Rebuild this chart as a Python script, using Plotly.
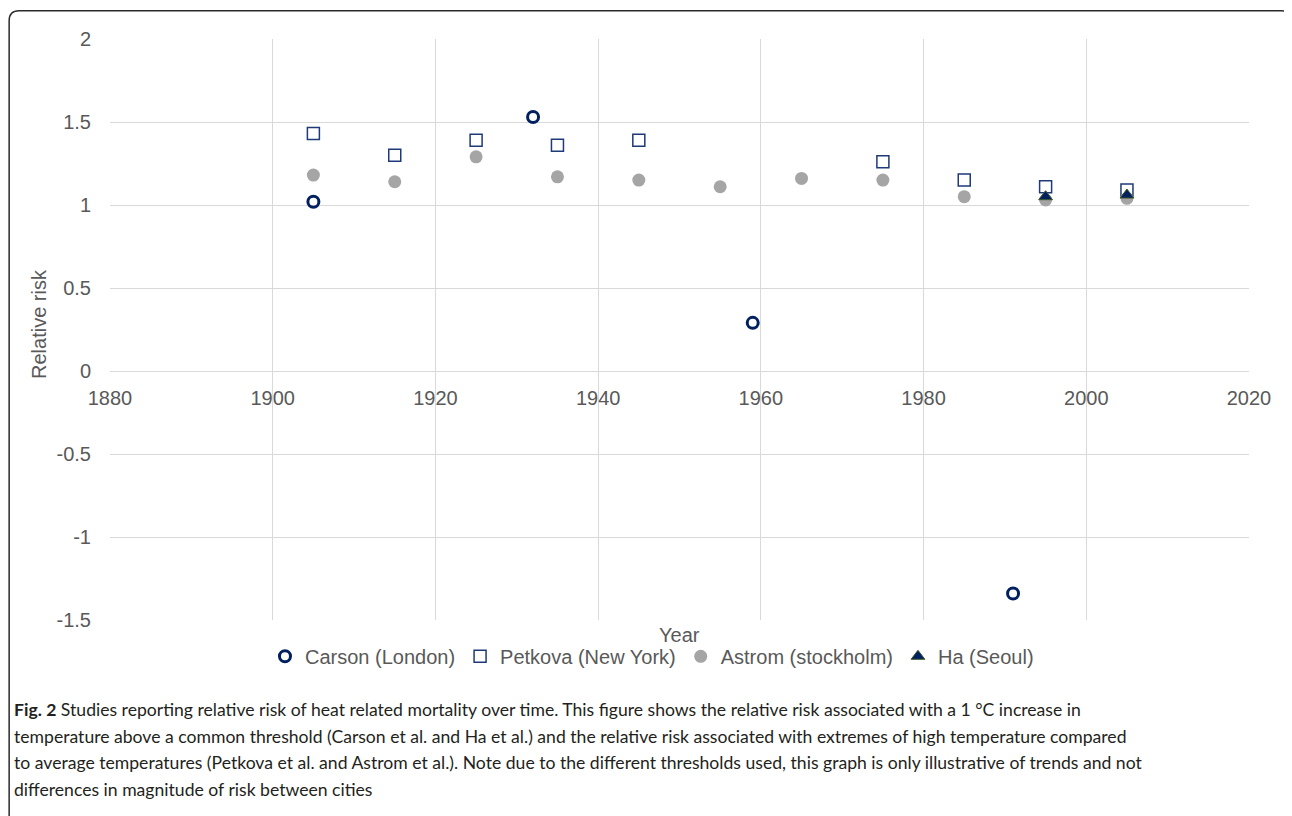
import plotly.graph_objects as go

# ---------------- data ----------------
carson_year = [1905, 1932, 1959, 1991]
carson_rr = [1.02, 1.53, 0.29, -1.34]

petkova_year = [1905, 1915, 1925, 1935, 1945, 1975, 1985, 1995, 2005]
petkova_rr = [1.43, 1.30, 1.39, 1.36, 1.39, 1.26, 1.15, 1.11, 1.09]

astrom_year = [1905, 1915, 1925, 1935, 1945, 1955, 1965, 1975, 1985, 1995, 2005]
astrom_rr = [1.18, 1.14, 1.29, 1.17, 1.15, 1.11, 1.16, 1.15, 1.05, 1.03, 1.04]

ha_year = [1995, 2005]
ha_rr = [1.05, 1.06]

x_ticks = [1880, 1900, 1920, 1940, 1960, 1980, 2000, 2020]
y_ticks = [-1.5, -1, -0.5, 0, 0.5, 1, 1.5, 2]
y_tick_text = ["-1.5", "-1", "-0.5", "0", "0.5", "1", "1.5", "2"]

caption_lines = [
    "<b>Fig. 2</b> Studies reporting relative risk of heat related mortality over time. This figure shows the relative risk associated with a 1 °C increase in",
    "temperature above a common threshold (Carson et al. and Ha et al.) and the relative risk associated with extremes of high temperature compared",
    "to average temperatures (Petkova et al. and Astrom et al.). Note due to the different thresholds used, this graph is only illustrative of trends and not",
    "differences in magnitude of risk between cities",
]

# ---------------- layout helpers ----------------
OFF = 8  # default page body margin
W, H = 1292 - OFF, 816 - OFF
L, R, T, B = 110.3, 1248.7, 38.7, 619.7  # plot area in page pixels


def px2x(px):
    return (px - L) / (R - L)


def px2y(py):
    return (B - py) / (B - T)


FONT = "Liberation Sans, Arial, Helvetica, sans-serif"
TICK_COLOR = "#595959"
GRID = "#D9D9D9"
NAVY = "#002060"

fig = go.Figure()
fig.add_trace(go.Scatter(
    x=carson_year, y=carson_rr, mode="markers", name="Carson (London)",
    marker=dict(symbol="circle-open", size=11, color=NAVY, line=dict(width=3, color=NAVY)),
))
fig.add_trace(go.Scatter(
    x=petkova_year, y=petkova_rr, mode="markers", name="Petkova (New York)",
    marker=dict(symbol="square-open", size=12, color="#1F3A78", line=dict(width=1.5, color="#1F3A78")),
))
fig.add_trace(go.Scatter(
    x=astrom_year, y=astrom_rr, mode="markers", name="Astrom (stockholm)",
    marker=dict(symbol="circle", size=13, color="#A5A5A5", line=dict(width=0)),
))
fig.add_trace(go.Scatter(
    x=ha_year, y=ha_rr, mode="markers", name="Ha (Seoul)",
    marker=dict(symbol="triangle-up", size=12, color=NAVY, line=dict(width=1, color="#3D5A2A")),
))

annotations = [
    dict(text="Year", x=0.5, y=px2y(635), xref="paper", yref="paper",
         showarrow=False, xanchor="center", yanchor="middle",
         font=dict(family=FONT, size=20, color=TICK_COLOR)),
    dict(text="Relative risk", x=px2x(40), y=px2y(324), xref="paper", yref="paper",
         showarrow=False, textangle=-90, xanchor="center", yanchor="middle",
         font=dict(family=FONT, size=20, color=TICK_COLOR)),
]
for i, line in enumerate(caption_lines):
    annotations.append(dict(
        text=line, x=px2x(12), y=px2y(709 + i * 26.7), xref="paper", yref="paper",
        showarrow=False, xanchor="left", yanchor="middle", align="left",
        font=dict(family="Lato, Open Sans, sans-serif", size=17.6, color="#231F20"),
    ))

# rounded frame
r = 10
x0, y0, x1, y1 = 9.5, 10.5, 1291, 830
path = (
    f"M {px2x(x0)},{px2y(y1)} L {px2x(x0)},{px2y(y0 + r)} "
    f"Q {px2x(x0)},{px2y(y0)} {px2x(x0 + r)},{px2y(y0)} "
    f"L {px2x(x1 - r)},{px2y(y0)} "
    f"Q {px2x(x1)},{px2y(y0)} {px2x(x1)},{px2y(y0 + r)} "
    f"L {px2x(x1)},{px2y(y1)}"
)

fig.update_layout(
    width=W, height=H,
    margin=dict(l=L - OFF, r=1292 - R, t=T - OFF, b=816 - B),
    paper_bgcolor="white", plot_bgcolor="white",
    showlegend=True,
    legend=dict(orientation="h", x=px2x(652), y=px2y(656), xanchor="center", yanchor="middle",
                font=dict(family=FONT, size=20, color=TICK_COLOR),
                itemwidth=30, tracegroupgap=0, bgcolor="rgba(0,0,0,0)"),
    annotations=annotations,
    shapes=[dict(type="path", path=path, xref="paper", yref="paper",
                 line=dict(color="#2B2B2B", width=1.5))],
    xaxis=dict(range=[1880, 2020], tickvals=x_ticks, showgrid=True, gridcolor=GRID, gridwidth=1.3,
               zeroline=False, showline=False, anchor="free", position=3 / 7,
               ticks="outside", ticklen=9, tickcolor="rgba(0,0,0,0)",
               tickfont=dict(family=FONT, size=20, color=TICK_COLOR)),
    yaxis=dict(range=[-1.5, 2], tickvals=y_ticks, ticktext=y_tick_text, showgrid=True,
               gridcolor=GRID, gridwidth=1.3, zeroline=False, showline=False,
               ticks="outside", ticklen=14, tickcolor="rgba(0,0,0,0)",
               tickfont=dict(family=FONT, size=20, color=TICK_COLOR)),
    font=dict(family=FONT),
)

fig.write_html("out.html")
